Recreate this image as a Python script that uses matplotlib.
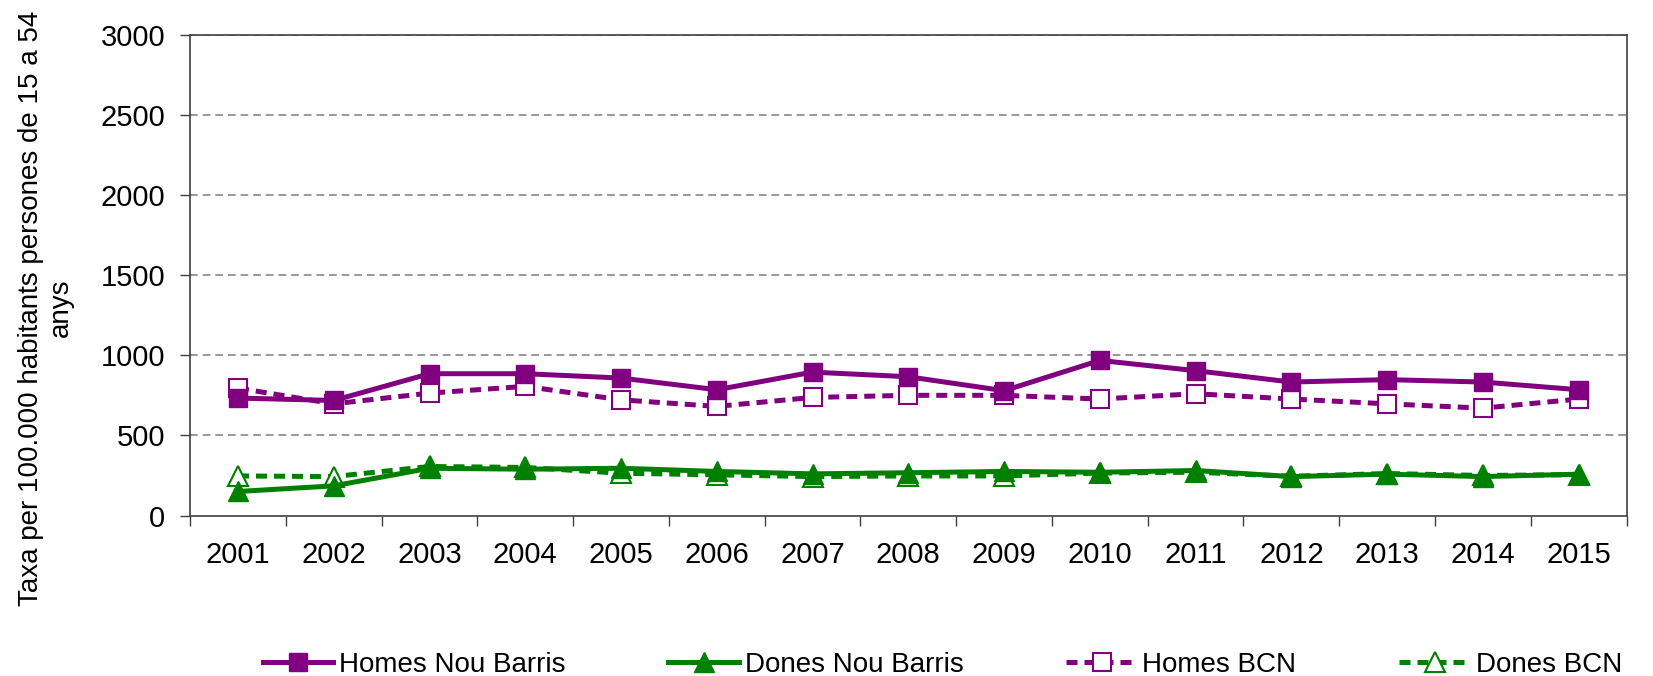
import numpy as np
import matplotlib.pyplot as plt

plt.rcParams['font.family'] = ['Liberation Sans', 'DejaVu Sans']

years = ['2001', '2002', '2003', '2004', '2005', '2006', '2007', '2008',
         '2009', '2010', '2011', '2012', '2013', '2014', '2015']

homes_nb = [733, 718, 885, 885, 858, 785, 895, 866, 779, 968, 904, 833, 848, 833, 785]
dones_nb = [150, 185, 295, 289, 295, 275, 260, 267, 275, 270, 281, 243, 258, 243, 258]
homes_bcn = [795, 697, 764, 806, 722, 681, 737, 750, 750, 727, 760, 727, 697, 670, 727]
dones_bcn = [247, 243, 306, 300, 264, 254, 243, 247, 247, 265, 270, 245, 262, 250, 255]

purple = '#800080'
green = '#008000'

fig = plt.figure(figsize=(16.53, 6.76), dpi=100)
ax = fig.add_axes([0.115, 0.2374, 0.869, 0.7111])

x = np.arange(len(years))
ax.plot(x, homes_nb, color=purple, lw=3.6, marker='s', ms=13, label='Homes Nou Barris', zorder=4)
ax.plot(x, dones_nb, color=green, lw=3.6, marker='^', ms=14, label='Dones Nou Barris', zorder=4)
ax.plot(x, homes_bcn, color=purple, lw=3.6, ls=(0, (2.2, 1.4)), marker='s', ms=13,
        mfc='white', mew=1.5, label='Homes BCN', zorder=3)
ax.plot(x, dones_bcn, color=green, lw=3.6, ls=(0, (2.2, 1.4)), marker='^', ms=14,
        mfc='white', mew=1.5, label='Dones BCN', zorder=3)

ax.set_xlim(-0.5, len(years) - 0.5)
ax.set_ylim(0, 3000)
ax.set_yticks(np.arange(0, 3001, 500))
ax.set_xticks(x)
ax.set_xticklabels(years)
ax.set_xticks(np.arange(-0.5, len(years)), minor=True)
ax.tick_params(axis='x', which='major', length=0, labelsize=21, pad=18)
ax.tick_params(axis='x', which='minor', length=7, width=1, color='#404040')
ax.tick_params(axis='y', length=7, width=1, color='#404040', labelsize=21, pad=11)

for v in np.arange(500, 3001, 500):
    ax.axhline(v, color='#999999', lw=1.4, ls=(0, (4, 2.5)), zorder=1)

for s in ax.spines.values():
    s.set_color('#404040')
    s.set_linewidth(1.2)

ax.set_ylabel('Taxa per 100.000 habitants persones de 15 a 54\nanys', fontsize=20)
ax.yaxis.set_label_coords(-0.081, 0.432)

fig.legend(loc='center', bbox_to_anchor=(0.57, 0.016), ncol=4, frameon=False,
           fontsize=20, handlelength=2.55, handletextpad=0.2, columnspacing=3.7)

fig.savefig('out.png', dpi=100)
